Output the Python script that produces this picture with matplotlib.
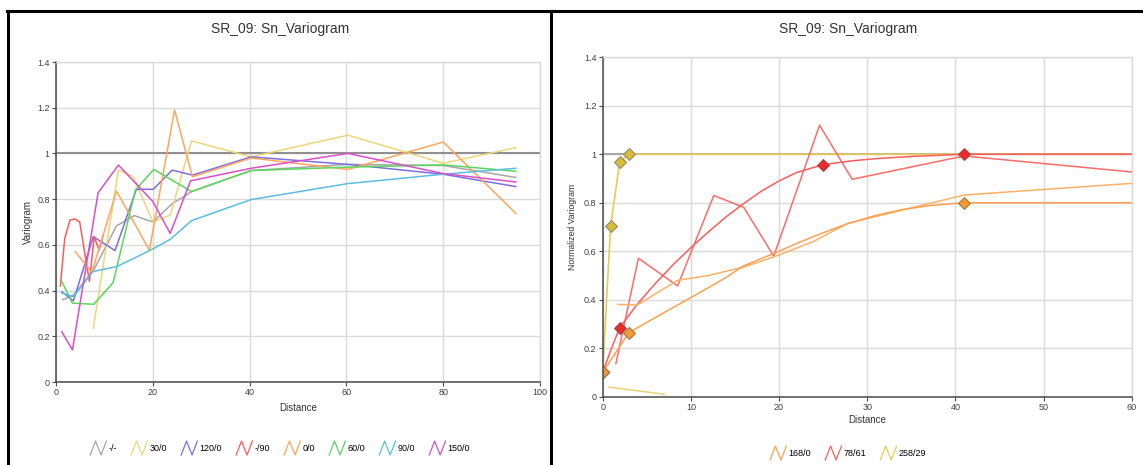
import numpy as np
import matplotlib.pyplot as plt
from matplotlib.lines import Line2D
from matplotlib.legend_handler import HandlerBase
from matplotlib.ticker import FuncFormatter

plt.rcParams['font.family'] = ['Liberation Sans', 'DejaVu Sans']

# ---- directional experimental variograms (left panel) ----
dir_labels = ["-/-", "30/0", "120/0", "-/90", "0/0", "60/0", "90/0", "150/0"]
dir_colors = ["#a6a6a6", "#ecd67a", "#7b6fe0", "#ff5a5a", "#ffa45c", "#5bd65b", "#5bbde0", "#d94fc8"]

omni_x = [1.4, 3.6, 7.8, 12.5, 16.2, 20.0, 24.0, 28.2, 40.3, 60.3, 80.0, 95.0]
omni_y = [0.36, 0.38, 0.49, 0.683, 0.728, 0.70, 0.78, 0.835, 0.925, 0.952, 0.947, 0.895]

d030_x = [7.7, 12.9, 16.0, 20.0, 23.6, 28.0, 40.3, 60.3, 80.0, 95.0]
d030_y = [0.235, 0.928, 0.898, 0.70, 0.73, 1.055, 0.985, 1.08, 0.957, 1.025]

d120_x = [1.2, 3.6, 7.7, 12.2, 16.6, 20.1, 24.0, 28.2, 40.3, 60.3, 80.0, 95.0]
d120_y = [0.395, 0.355, 0.636, 0.575, 0.843, 0.843, 0.927, 0.905, 0.985, 0.952, 0.909, 0.855]

dvert_x = [0.9, 1.8, 2.9, 3.9, 4.9, 6.9, 7.9, 8.9, 9.8]
dvert_y = [0.42, 0.628, 0.709, 0.713, 0.70, 0.44, 0.636, 0.577, 0.645]

d000_x = [4.0, 7.4, 12.5, 19.3, 24.5, 28.2, 40.3, 60.3, 80.0, 95.0]
d000_y = [0.57, 0.48, 0.835, 0.577, 1.19, 0.898, 0.98, 0.93, 1.05, 0.738]

d060_x = [1.2, 3.4, 7.8, 11.8, 16.4, 20.2, 28.0, 40.3, 60.3, 80.0, 95.0]
d060_y = [0.44, 0.345, 0.34, 0.435, 0.84, 0.93, 0.833, 0.925, 0.94, 0.95, 0.922]

d090_x = [1.2, 3.6, 7.6, 12.5, 16.0, 19.8, 23.6, 28.0, 40.3, 60.3, 80.0, 95.0]
d090_y = [0.39, 0.373, 0.483, 0.505, 0.54, 0.58, 0.624, 0.706, 0.798, 0.868, 0.909, 0.935]

d150_x = [1.2, 3.4, 8.7, 12.9, 20.0, 23.6, 27.8, 40.3, 60.3, 80.0, 95.0]
d150_y = [0.22, 0.14, 0.828, 0.949, 0.79, 0.65, 0.88, 0.935, 1.0, 0.912, 0.875]

dir_series = [(omni_x, omni_y), (d030_x, d030_y), (d120_x, d120_y), (dvert_x, dvert_y),
              (d000_x, d000_y), (d060_x, d060_y), (d090_x, d090_y), (d150_x, d150_y)]

# ---- normalized experimental + model variograms (right panel) ----
exp_168_x = [1.7, 3.9, 8.5, 12.0, 16.2, 19.5, 23.9, 27.8, 41.0, 60.0]
exp_168_y = [0.381, 0.378, 0.48, 0.50, 0.537, 0.578, 0.64, 0.715, 0.832, 0.88]
mod_168_x = [0, 2.95, 6, 8, 10, 12, 14, 16, 18, 20, 22, 24, 26, 28, 31, 34, 37, 41, 60]
mod_168_y = [0.1, 0.264, 0.327, 0.368, 0.409, 0.45, 0.492, 0.54, 0.57, 0.60, 0.632, 0.662,
             0.69, 0.716, 0.748, 0.772, 0.788, 0.8, 0.8]
pts_168_x = [0, 2.95, 41]
pts_168_y = [0.1, 0.264, 0.8]

exp_78_x = [1.5, 4.05, 8.5, 12.6, 16.0, 19.4, 24.6, 28.3, 41.0, 60.0]
exp_78_y = [0.137, 0.571, 0.457, 0.83, 0.781, 0.58, 1.12, 0.897, 0.993, 0.927]
mod_78_x = [0, 1, 1.93, 4, 6, 8, 10, 12, 14, 16, 18, 20, 22, 25, 28, 31, 35, 41, 60]
mod_78_y = [0.1, 0.2, 0.285, 0.385, 0.468, 0.545, 0.615, 0.68, 0.742, 0.797, 0.848, 0.89,
            0.925, 0.957, 0.972, 0.982, 0.991, 1.0, 1.0]
pts_78_x = [0, 1.93, 25, 41]
pts_78_y = [0.1, 0.285, 0.957, 1.0]

exp_258_x = [0.65, 7.0]
exp_258_y = [0.04, 0.01]
mod_258_x = [0, 0.9, 1.93, 2.95, 60]
mod_258_y = [0.1, 0.706, 0.968, 1.0, 1.0]
pts_258_x = [0, 0.9, 1.93, 2.95]
pts_258_y = [0.1, 0.706, 0.968, 1.0]


class ZigzagHandler(HandlerBase):
    # little "N" shaped swatch used in the legends
    def create_artists(self, legend, orig_handle, xdescent, ydescent,
                       width, height, fontsize, trans):
        xs = np.array([0.0, 0.33, 0.67, 1.0]) * width - xdescent
        ys = np.array([0.0, 1.0, 0.0, 1.0]) * height - ydescent
        line = Line2D(xs, ys, color=orig_handle.get_color(), lw=0.9)
        line.set_transform(trans)
        return [line]


def style_axes(ax, xmax, xstep):
    ax.set_xlim(0, xmax)
    ax.set_ylim(0, 1.4)
    ax.set_xticks(np.arange(0, xmax + 1, xstep))
    ax.set_yticks(np.arange(0, 1.41, 0.2))
    ax.yaxis.set_major_formatter(FuncFormatter(lambda v, p: f"{v:g}"))
    ax.grid(True, color="#dadada", lw=1.0)
    ax.set_axisbelow(True)
    for side in ["top", "right"]:
        ax.spines[side].set_color("#dadada")
        ax.spines[side].set_linewidth(1.0)
    for side in ["left", "bottom"]:
        ax.spines[side].set_color("#4a4a4a")
        ax.spines[side].set_linewidth(1.1)
    ax.tick_params(labelsize=6.5, length=3, width=0.8, color="#4a4a4a",
                   labelcolor="#404040", pad=1.5)


W, H = 1143, 465
fig = plt.figure(figsize=(W / 100, H / 100), dpi=100)

# left panel
ax1 = fig.add_axes([56 / W, 83 / H, 484 / W, 320 / H])
style_axes(ax1, 100, 20)
ax1.axhline(1.0, color="#909090", lw=1.5, zorder=1.5)
dir_lines = []
for (xs, ys), lab, col in zip(dir_series, dir_labels, dir_colors):
    ln, = ax1.plot(xs, ys, color=col, lw=1.1, label=lab)
    dir_lines.append(ln)
ax1.set_xlabel("Distance", fontsize=7, color="#333333")
ax1.xaxis.set_label_coords(0.5, -0.066)
ax1.set_ylabel("Variogram", fontsize=7, color="#333333")
ax1.yaxis.set_label_coords(-0.048, 0.5)

# right panel
ax2 = fig.add_axes([602.7 / W, 68.3 / H, 529 / W, 339.4 / H])
style_axes(ax2, 60, 10)
ax2.axhline(1.0, color="#a0a0a0", lw=1.3, zorder=1.5)

ax2.plot(exp_258_x, exp_258_y, color="#e8d27a", lw=1.1)
l258, = ax2.plot(mod_258_x, mod_258_y, color="#e6cc55", lw=1.2, label="258/29")
ax2.plot(pts_258_x, pts_258_y, ls="none", marker="D", ms=6.5,
         mfc="#d8bc3c", mec="#8c8260", mew=0.7)

ax2.plot(exp_78_x, exp_78_y, color="#ff6a6a", lw=1.1)
l78, = ax2.plot(mod_78_x, mod_78_y, color="#ff5c5c", lw=1.1, label="78/61")
ax2.plot(pts_78_x, pts_78_y, ls="none", marker="D", ms=6.5,
         mfc="#ee2a2a", mec="#994444", mew=0.7)

ax2.plot(exp_168_x, exp_168_y, color="#ffb066", lw=1.1)
l168, = ax2.plot(mod_168_x, mod_168_y, color="#ffa050", lw=1.1, label="168/0")
ax2.plot(pts_168_x, pts_168_y, ls="none", marker="D", ms=6.5,
         mfc="#f39a35", mec="#9a7040", mew=0.7)

ax2.set_xlabel("Distance", fontsize=7, color="#333333")
ax2.xaxis.set_label_coords(0.5, -0.054)
ax2.set_ylabel("Normalized Variogram", fontsize=6.2, color="#333333")
ax2.yaxis.set_label_coords(-0.048, 0.5)

# titles
fig.text(280 / W, 1 - 28.5 / H, "SR_09: Sn_Variogram", ha="center", va="center",
         fontsize=10, color="#333333")
fig.text(848 / W, 1 - 28.5 / H, "SR_09: Sn_Variogram", ha="center", va="center",
         fontsize=10, color="#333333")

# legends
leg_kw = dict(loc="center", ncol=8, frameon=False, fontsize=6.5, handlelength=1.8,
              handleheight=2.0, handletextpad=0.2, columnspacing=1.6,
              handler_map={Line2D: ZigzagHandler()})
fig.legend(dir_lines, dir_labels, bbox_to_anchor=(280 / W, 1 - 448 / H), **leg_kw)
fig.legend([l168, l78, l258], ["168/0", "78/61", "258/29"],
           bbox_to_anchor=(848 / W, 1 - 453 / H), **leg_kw)

# panel frame
frame_kw = dict(transform=fig.transFigure, color="black", lw=2.2)
fig.add_artist(Line2D([7 / W, 1], [1 - 11.5 / H] * 2, **frame_kw))
fig.add_artist(Line2D([8 / W] * 2, [0, 1 - 11.5 / H], **frame_kw))
fig.add_artist(Line2D([551 / W] * 2, [0, 1 - 11.5 / H], **frame_kw))

fig.savefig("out.png", dpi=100)
plt.close(fig)
